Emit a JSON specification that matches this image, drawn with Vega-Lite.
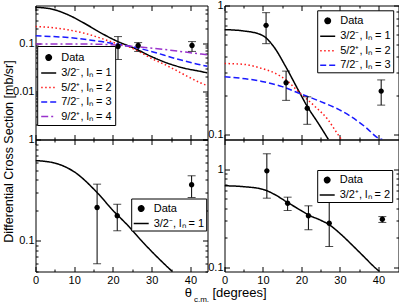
{
  "$schema": "https://vega.github.io/schema/vega-lite/v6.json",
  "padding": {"left": 1.5, "top": -1.5, "right": 0, "bottom": 0},
  "background": "white",
  "datasets": {
    "curves": [
      {"p": "a", "s": "3/2⁻, lₙ = 1", "x": 0, "y": 0.55},
      {"p": "a", "s": "3/2⁻, lₙ = 1", "x": 4, "y": 0.51},
      {"p": "a", "s": "3/2⁻, lₙ = 1", "x": 8.4, "y": 0.385},
      {"p": "a", "s": "3/2⁻, lₙ = 1", "x": 12.6, "y": 0.257},
      {"p": "a", "s": "3/2⁻, lₙ = 1", "x": 17, "y": 0.16},
      {"p": "a", "s": "3/2⁻, lₙ = 1", "x": 21.3, "y": 0.107},
      {"p": "a", "s": "3/2⁻, lₙ = 1", "x": 25.5, "y": 0.078},
      {"p": "a", "s": "3/2⁻, lₙ = 1", "x": 29.9, "y": 0.0525},
      {"p": "a", "s": "3/2⁻, lₙ = 1", "x": 34.2, "y": 0.038},
      {"p": "a", "s": "3/2⁻, lₙ = 1", "x": 38.5, "y": 0.03},
      {"p": "a", "s": "3/2⁻, lₙ = 1", "x": 42.8, "y": 0.0256},
      {"p": "a", "s": "3/2⁻, lₙ = 1", "x": 44.4, "y": 0.024},
      {"p": "a", "s": "5/2⁺, lₙ = 2", "x": 0, "y": 0.22},
      {"p": "a", "s": "5/2⁺, lₙ = 2", "x": 4, "y": 0.21},
      {"p": "a", "s": "5/2⁺, lₙ = 2", "x": 8.4, "y": 0.188},
      {"p": "a", "s": "5/2⁺, lₙ = 2", "x": 12.6, "y": 0.16},
      {"p": "a", "s": "5/2⁺, lₙ = 2", "x": 17, "y": 0.125},
      {"p": "a", "s": "5/2⁺, lₙ = 2", "x": 20.5, "y": 0.1},
      {"p": "a", "s": "5/2⁺, lₙ = 2", "x": 23.8, "y": 0.085},
      {"p": "a", "s": "5/2⁺, lₙ = 2", "x": 26.8, "y": 0.066},
      {"p": "a", "s": "5/2⁺, lₙ = 2", "x": 29.9, "y": 0.048},
      {"p": "a", "s": "5/2⁺, lₙ = 2", "x": 33, "y": 0.037},
      {"p": "a", "s": "5/2⁺, lₙ = 2", "x": 36, "y": 0.028},
      {"p": "a", "s": "5/2⁺, lₙ = 2", "x": 39.4, "y": 0.02},
      {"p": "a", "s": "5/2⁺, lₙ = 2", "x": 42.8, "y": 0.0147},
      {"p": "a", "s": "5/2⁺, lₙ = 2", "x": 44.4, "y": 0.013},
      {"p": "a", "s": "7/2⁻, lₙ = 3", "x": 0, "y": 0.141},
      {"p": "a", "s": "7/2⁻, lₙ = 3", "x": 8.4, "y": 0.13},
      {"p": "a", "s": "7/2⁻, lₙ = 3", "x": 17, "y": 0.107},
      {"p": "a", "s": "7/2⁻, lₙ = 3", "x": 21, "y": 0.095},
      {"p": "a", "s": "7/2⁻, lₙ = 3", "x": 25.5, "y": 0.082},
      {"p": "a", "s": "7/2⁻, lₙ = 3", "x": 29.9, "y": 0.067},
      {"p": "a", "s": "7/2⁻, lₙ = 3", "x": 36, "y": 0.048},
      {"p": "a", "s": "7/2⁻, lₙ = 3", "x": 42.8, "y": 0.035},
      {"p": "a", "s": "7/2⁻, lₙ = 3", "x": 44.4, "y": 0.033},
      {"p": "a", "s": "9/2⁺, lₙ = 4", "x": 0, "y": 0.096},
      {"p": "a", "s": "9/2⁺, lₙ = 4", "x": 10, "y": 0.096},
      {"p": "a", "s": "9/2⁺, lₙ = 4", "x": 17, "y": 0.094},
      {"p": "a", "s": "9/2⁺, lₙ = 4", "x": 21, "y": 0.091},
      {"p": "a", "s": "9/2⁺, lₙ = 4", "x": 25.5, "y": 0.085},
      {"p": "a", "s": "9/2⁺, lₙ = 4", "x": 34.2, "y": 0.072},
      {"p": "a", "s": "9/2⁺, lₙ = 4", "x": 42.8, "y": 0.059},
      {"p": "a", "s": "9/2⁺, lₙ = 4", "x": 44.4, "y": 0.057},
      {"p": "b", "s": "3/2⁻, lₙ = 1", "x": 0, "y": 0.65},
      {"p": "b", "s": "3/2⁻, lₙ = 1", "x": 5, "y": 0.635},
      {"p": "b", "s": "3/2⁻, lₙ = 1", "x": 9.7, "y": 0.59},
      {"p": "b", "s": "3/2⁻, lₙ = 1", "x": 13, "y": 0.47},
      {"p": "b", "s": "3/2⁻, lₙ = 1", "x": 15.8, "y": 0.34},
      {"p": "b", "s": "3/2⁻, lₙ = 1", "x": 19.2, "y": 0.22},
      {"p": "b", "s": "3/2⁻, lₙ = 1", "x": 21.5, "y": 0.165},
      {"p": "b", "s": "3/2⁻, lₙ = 1", "x": 24.3, "y": 0.123},
      {"p": "b", "s": "3/2⁻, lₙ = 1", "x": 27, "y": 0.0915},
      {"p": "b", "s": "5/2⁺, lₙ = 2", "x": 0, "y": 0.355},
      {"p": "b", "s": "5/2⁺, lₙ = 2", "x": 5, "y": 0.35},
      {"p": "b", "s": "5/2⁺, lₙ = 2", "x": 9.7, "y": 0.325},
      {"p": "b", "s": "5/2⁺, lₙ = 2", "x": 13, "y": 0.3},
      {"p": "b", "s": "5/2⁺, lₙ = 2", "x": 16, "y": 0.265},
      {"p": "b", "s": "5/2⁺, lₙ = 2", "x": 19.2, "y": 0.215},
      {"p": "b", "s": "5/2⁺, lₙ = 2", "x": 23.5, "y": 0.165},
      {"p": "b", "s": "5/2⁺, lₙ = 2", "x": 26.9, "y": 0.13},
      {"p": "b", "s": "5/2⁺, lₙ = 2", "x": 29, "y": 0.105},
      {"p": "b", "s": "5/2⁺, lₙ = 2", "x": 30.4, "y": 0.0915},
      {"p": "b", "s": "7/2⁻, lₙ = 3", "x": 0, "y": 0.28},
      {"p": "b", "s": "7/2⁻, lₙ = 3", "x": 9.7, "y": 0.258},
      {"p": "b", "s": "7/2⁻, lₙ = 3", "x": 15, "y": 0.235},
      {"p": "b", "s": "7/2⁻, lₙ = 3", "x": 19.2, "y": 0.21},
      {"p": "b", "s": "7/2⁻, lₙ = 3", "x": 25, "y": 0.18},
      {"p": "b", "s": "7/2⁻, lₙ = 3", "x": 29, "y": 0.16},
      {"p": "b", "s": "7/2⁻, lₙ = 3", "x": 32.5, "y": 0.14},
      {"p": "b", "s": "7/2⁻, lₙ = 3", "x": 36.5, "y": 0.115},
      {"p": "b", "s": "7/2⁻, lₙ = 3", "x": 40.2, "y": 0.093},
      {"p": "b", "s": "7/2⁻, lₙ = 3", "x": 41, "y": 0.0915},
      {"p": "c", "s": "3/2⁻, lₙ = 1", "x": 0, "y": 0.62},
      {"p": "c", "s": "3/2⁻, lₙ = 1", "x": 5, "y": 0.585},
      {"p": "c", "s": "3/2⁻, lₙ = 1", "x": 10, "y": 0.48},
      {"p": "c", "s": "3/2⁻, lₙ = 1", "x": 15.9, "y": 0.3},
      {"p": "c", "s": "3/2⁻, lₙ = 1", "x": 20, "y": 0.2},
      {"p": "c", "s": "3/2⁻, lₙ = 1", "x": 24, "y": 0.14},
      {"p": "c", "s": "3/2⁻, lₙ = 1", "x": 27.1, "y": 0.103},
      {"p": "c", "s": "3/2⁻, lₙ = 1", "x": 31, "y": 0.072},
      {"p": "c", "s": "3/2⁻, lₙ = 1", "x": 35.3, "y": 0.05},
      {"p": "d", "s": "3/2⁺, lₙ = 2", "x": 0, "y": 0.675},
      {"p": "d", "s": "3/2⁺, lₙ = 2", "x": 5, "y": 0.66},
      {"p": "d", "s": "3/2⁺, lₙ = 2", "x": 10, "y": 0.62},
      {"p": "d", "s": "3/2⁺, lₙ = 2", "x": 13, "y": 0.55},
      {"p": "d", "s": "3/2⁺, lₙ = 2", "x": 16.4, "y": 0.455},
      {"p": "d", "s": "3/2⁺, lₙ = 2", "x": 20, "y": 0.375},
      {"p": "d", "s": "3/2⁺, lₙ = 2", "x": 21.8, "y": 0.34},
      {"p": "d", "s": "3/2⁺, lₙ = 2", "x": 25, "y": 0.3},
      {"p": "d", "s": "3/2⁺, lₙ = 2", "x": 27.2, "y": 0.27},
      {"p": "d", "s": "3/2⁺, lₙ = 2", "x": 30, "y": 0.22},
      {"p": "d", "s": "3/2⁺, lₙ = 2", "x": 33, "y": 0.17},
      {"p": "d", "s": "3/2⁺, lₙ = 2", "x": 36, "y": 0.13},
      {"p": "d", "s": "3/2⁺, lₙ = 2", "x": 39.7, "y": 0.094},
      {"p": "d", "s": "3/2⁺, lₙ = 2", "x": 40.3, "y": 0.09}
    ],
    "points": [
      {"p": "a", "s": "Data", "x": 21.3, "y": 0.085, "lo": 0.0455, "hi": 0.136},
      {"p": "a", "s": "Data", "x": 26.5, "y": 0.089, "lo": 0.067, "hi": 0.102},
      {"p": "a", "s": "Data", "x": 40.4, "y": 0.089, "lo": 0.067, "hi": 0.107},
      {"p": "b", "s": "Data", "x": 10.8, "y": 0.702, "lo": 0.506, "hi": 0.88},
      {"p": "b", "s": "Data", "x": 16.0, "y": 0.252, "lo": 0.184, "hi": 0.31},
      {"p": "b", "s": "Data", "x": 21.5, "y": 0.16, "lo": 0.12, "hi": 0.196},
      {"p": "b", "s": "Data", "x": 40.7, "y": 0.217, "lo": 0.169, "hi": 0.265},
      {"p": "c", "s": "Data", "x": 15.9, "y": 0.214, "lo": 0.0596, "hi": 0.363},
      {"p": "c", "s": "Data", "x": 21.1, "y": 0.177, "lo": 0.126, "hi": 0.23},
      {"p": "c", "s": "Data", "x": 40.3, "y": 0.358, "lo": 0.268, "hi": 0.439},
      {"p": "d", "s": "Data", "x": 11.0, "y": 0.958, "lo": 0.504, "hi": 1.43},
      {"p": "d", "s": "Data", "x": 16.4, "y": 0.448, "lo": 0.377, "hi": 0.516},
      {"p": "d", "s": "Data", "x": 21.8, "y": 0.333, "lo": 0.24, "hi": 0.421},
      {"p": "d", "s": "Data", "x": 27.2, "y": 0.28, "lo": 0.162, "hi": 0.496},
      {"p": "d", "s": "Data", "x": 41.0, "y": 0.307, "lo": 0.285, "hi": 0.327}
    ]
  },
  "columns": 2,
  "spacing": {"row": 0, "column": 17},
  "bounds": "flush",
  "resolve": {
    "scale": {"x": "independent", "y": "independent", "color": "independent", "strokeDash": "independent", "shape": "independent"},
    "legend": {"color": "independent", "strokeDash": "independent", "shape": "independent"},
    "axis": {"x": "independent", "y": "independent"}
  },
  "concat": [
    {
      "width": 172, "height": 134,
      "layer": [
        {
          "data": {"name": "curves"}, "transform": [{"filter": "datum.p === 'a'"}],
          "mark": {"type": "line", "clip": true, "strokeWidth": 1.5, "interpolate": "monotone"},
          "encoding": {
            "x": {"field": "x", "type": "quantitative", "scale": {"domain": [0, 44.4], "nice": false, "zero": false}, "axis": {"orient": "bottom", "values": [0, 10, 20, 30, 40], "labels": false, "title": null}},
            "y": {"field": "y", "type": "quantitative", "scale": {"type": "log", "domain": [0.001, 0.6], "nice": false}, "axis": {"orient": "left", "values": [0.01, 0.1], "title": "Differential Cross Section [mb/sr]", "titleX": -26.8, "titleY": 145.5, "titleAngle": -90, "titleAlign": "center", "titleBaseline": "middle"}},
            "color": {"field": "s", "type": "nominal", "scale": {"domain": ["Data", "3/2⁻, lₙ = 1", "5/2⁺, lₙ = 2", "7/2⁻, lₙ = 3", "9/2⁺, lₙ = 4"], "range": ["black", "black", "#ff1a1a", "#1a1aff", "#9932cc"]},
              "legend": {"orient": "none", "legendX": 1.7, "legendY": 40.5, "title": null, "padding": 3, "rowPadding": 0.5}},
            "strokeDash": {"field": "s", "type": "nominal", "scale": {"domain": ["Data", "3/2⁻, lₙ = 1", "5/2⁺, lₙ = 2", "7/2⁻, lₙ = 3", "9/2⁺, lₙ = 4"], "range": [[1, 0], [1, 0], [1.5, 2.5], [6, 3], [7, 3, 2, 3]]},
              "legend": {"orient": "none", "legendX": 1.7, "legendY": 40.5, "title": null, "padding": 3, "rowPadding": 0.5}}
          }
        },
        {
          "data": {"name": "points"}, "transform": [{"filter": "datum.p === 'a'"}],
          "mark": {"type": "rule", "color": "black", "strokeWidth": 1},
          "encoding": {
            "x": {"field": "x", "type": "quantitative", "axis": {"orient": "top", "values": [0, 10, 20, 30, 40], "labels": false, "title": null}},
            "y": {"field": "lo", "type": "quantitative", "axis": {"orient": "right", "values": [0.001, 0.01, 0.1], "labels": false, "title": null}},
            "y2": {"field": "hi"}
          }
        },
        {
          "data": {"name": "points"}, "transform": [{"filter": "datum.p === 'a'"}],
          "mark": {"type": "tick", "orient": "horizontal", "size": 8, "thickness": 1, "color": "black"},
          "encoding": {
            "x": {"field": "x", "type": "quantitative", "axis": {"orient": "bottom", "values": [5, 15, 25, 35], "labels": false, "tickSize": -2.5, "title": null}},
            "y": {"field": "lo", "type": "quantitative", "axis": {"orient": "left", "values": [0.002, 0.003, 0.004, 0.005, 0.006, 0.007, 0.008, 0.009, 0.02, 0.03, 0.04, 0.05, 0.06, 0.07, 0.08, 0.09, 0.2, 0.3, 0.4, 0.5], "labels": false, "tickSize": -2.5, "title": null}}
          }
        },
        {
          "data": {"name": "points"}, "transform": [{"filter": "datum.p === 'a'"}],
          "mark": {"type": "tick", "orient": "horizontal", "size": 8, "thickness": 1, "color": "black"},
          "encoding": {
            "x": {"field": "x", "type": "quantitative", "axis": {"orient": "top", "values": [5, 15, 25, 35], "labels": false, "tickSize": -2.5, "title": null}},
            "y": {"field": "hi", "type": "quantitative", "axis": {"orient": "right", "values": [0.002, 0.003, 0.004, 0.005, 0.006, 0.007, 0.008, 0.009, 0.02, 0.03, 0.04, 0.05, 0.06, 0.07, 0.08, 0.09, 0.2, 0.3, 0.4, 0.5], "labels": false, "tickSize": -2.5, "title": null}}
          }
        },
        {
          "data": {"name": "points"}, "transform": [{"filter": "datum.p === 'a'"}],
          "mark": {"type": "point", "filled": true, "size": 225, "color": "black", "opacity": 1},
          "encoding": {
            "x": {"field": "x", "type": "quantitative", "axis": null},
            "y": {"field": "y", "type": "quantitative", "axis": null},
            "shape": {"field": "s", "type": "nominal", "scale": {"domain": ["Data", "3/2⁻, lₙ = 1", "5/2⁺, lₙ = 2", "7/2⁻, lₙ = 3", "9/2⁺, lₙ = 4"], "range": ["M-0.36,0A0.36,0.36,0,1,0,0.36,0A0.36,0.36,0,1,0,-0.36,0Z", "stroke", "stroke", "stroke", "stroke"]},
              "legend": {"orient": "none", "legendX": 1.7, "legendY": 40.5, "title": null, "padding": 3, "rowPadding": 0.5}}
          }
        },
        {
          "mark": {"type": "text", "fontSize": 12.5, "align": "center", "baseline": "middle", "color": "black"},
          "encoding": {
            "x": {"datum": 33.9, "type": "quantitative", "axis": null},
            "y": {"datum": 0.0167, "type": "quantitative", "axis": null},
            "text": {"value": "7602 keV"}
          }
        }
      ],
      "resolve": {"axis": {"x": "independent", "y": "independent"}}
    },
    {
      "width": 174, "height": 134,
      "layer": [
        {
          "data": {"name": "curves"}, "transform": [{"filter": "datum.p === 'b'"}],
          "mark": {"type": "line", "clip": true, "strokeWidth": 1.5, "interpolate": "monotone"},
          "encoding": {
            "x": {"field": "x", "type": "quantitative", "scale": {"domain": [0, 45.2], "nice": false, "zero": false}, "axis": {"orient": "bottom", "values": [0, 10, 20, 30, 40], "labels": false, "title": null}},
            "y": {"field": "y", "type": "quantitative", "scale": {"type": "log", "domain": [0.0915, 1], "nice": false}, "axis": {"orient": "left", "values": [0.1, 1], "title": null}},
            "color": {"field": "s", "type": "nominal", "scale": {"domain": ["Data", "3/2⁻, lₙ = 1", "5/2⁺, lₙ = 2", "7/2⁻, lₙ = 3"], "range": ["black", "black", "#ff1a1a", "#1a1aff"]},
              "legend": {"orient": "none", "legendX": 92.7, "legendY": 4.8, "title": null, "padding": 2, "rowPadding": 0.5}},
            "strokeDash": {"field": "s", "type": "nominal", "scale": {"domain": ["Data", "3/2⁻, lₙ = 1", "5/2⁺, lₙ = 2", "7/2⁻, lₙ = 3"], "range": [[1, 0], [1, 0], [1.5, 2.5], [6, 3]]},
              "legend": {"orient": "none", "legendX": 92.7, "legendY": 4.8, "title": null, "padding": 2, "rowPadding": 0.5}}
          }
        },
        {
          "data": {"name": "points"}, "transform": [{"filter": "datum.p === 'b'"}],
          "mark": {"type": "rule", "color": "black", "strokeWidth": 1},
          "encoding": {
            "x": {"field": "x", "type": "quantitative", "axis": {"orient": "top", "values": [0, 10, 20, 30, 40], "labels": false, "title": null}},
            "y": {"field": "lo", "type": "quantitative", "axis": {"orient": "right", "values": [0.1, 1], "labels": false, "title": null}},
            "y2": {"field": "hi"}
          }
        },
        {
          "data": {"name": "points"}, "transform": [{"filter": "datum.p === 'b'"}],
          "mark": {"type": "tick", "orient": "horizontal", "size": 8, "thickness": 1, "color": "black"},
          "encoding": {
            "x": {"field": "x", "type": "quantitative", "axis": {"orient": "bottom", "values": [5, 15, 25, 35], "labels": false, "tickSize": -2.5, "title": null}},
            "y": {"field": "lo", "type": "quantitative", "axis": {"orient": "left", "values": [0.2, 0.3, 0.4, 0.5, 0.6, 0.7, 0.8, 0.9], "labels": false, "tickSize": -2.5, "title": null}}
          }
        },
        {
          "data": {"name": "points"}, "transform": [{"filter": "datum.p === 'b'"}],
          "mark": {"type": "tick", "orient": "horizontal", "size": 8, "thickness": 1, "color": "black"},
          "encoding": {
            "x": {"field": "x", "type": "quantitative", "axis": {"orient": "top", "values": [5, 15, 25, 35], "labels": false, "tickSize": -2.5, "title": null}},
            "y": {"field": "hi", "type": "quantitative", "axis": {"orient": "right", "values": [0.2, 0.3, 0.4, 0.5, 0.6, 0.7, 0.8, 0.9], "labels": false, "tickSize": -2.5, "title": null}}
          }
        },
        {
          "data": {"name": "points"}, "transform": [{"filter": "datum.p === 'b'"}],
          "mark": {"type": "point", "filled": true, "size": 225, "color": "black", "opacity": 1},
          "encoding": {
            "x": {"field": "x", "type": "quantitative", "axis": null},
            "y": {"field": "y", "type": "quantitative", "axis": null},
            "shape": {"field": "s", "type": "nominal", "scale": {"domain": ["Data", "3/2⁻, lₙ = 1", "5/2⁺, lₙ = 2", "7/2⁻, lₙ = 3"], "range": ["M-0.36,0A0.36,0.36,0,1,0,0.36,0A0.36,0.36,0,1,0,-0.36,0Z", "stroke", "stroke", "stroke"]},
              "legend": {"orient": "none", "legendX": 92.7, "legendY": 4.8, "title": null, "padding": 2, "rowPadding": 0.5}}
          }
        },
        {
          "mark": {"type": "text", "fontSize": 12.5, "align": "center", "baseline": "middle", "color": "black"},
          "encoding": {
            "x": {"datum": 9.1, "type": "quantitative", "axis": null},
            "y": {"datum": 0.199, "type": "quantitative", "axis": null},
            "text": {"value": "7820 keV"}
          }
        }
      ],
      "resolve": {"axis": {"x": "independent", "y": "independent"}}
    },
    {
      "width": 172, "height": 132,
      "layer": [
        {
          "data": {"name": "curves"}, "transform": [{"filter": "datum.p === 'c'"}],
          "mark": {"type": "line", "clip": true, "strokeWidth": 1.5, "interpolate": "monotone"},
          "encoding": {
            "x": {"field": "x", "type": "quantitative", "scale": {"domain": [0, 44.4], "nice": false, "zero": false}, "axis": {"orient": "bottom", "values": [0, 10, 20, 30, 40], "title": "θ", "titleX": 152.4, "titleY": 21, "titleAlign": "center", "titleBaseline": "middle", "titleFontSize": 13}},
            "y": {"field": "y", "type": "quantitative", "scale": {"type": "log", "domain": [0.05, 1], "nice": false}, "axis": {"orient": "left", "values": [0.1, 1], "title": null}},
            "color": {"field": "s", "type": "nominal", "scale": {"domain": ["Data", "3/2⁻, lₙ = 1"], "range": ["black", "black"]},
              "legend": {"orient": "none", "legendX": 95.7, "legendY": 59, "title": null, "padding": 1.5, "rowPadding": 0}},
            "strokeDash": {"field": "s", "type": "nominal", "scale": {"domain": ["Data", "3/2⁻, lₙ = 1"], "range": [[1, 0], [1, 0]]},
              "legend": {"orient": "none", "legendX": 95.7, "legendY": 59, "title": null, "padding": 1.5, "rowPadding": 0}}
          }
        },
        {
          "data": {"name": "points"}, "transform": [{"filter": "datum.p === 'c'"}],
          "mark": {"type": "rule", "color": "black", "strokeWidth": 1},
          "encoding": {
            "x": {"field": "x", "type": "quantitative", "axis": {"orient": "top", "values": [0, 10, 20, 30, 40], "labels": false, "title": null}},
            "y": {"field": "lo", "type": "quantitative", "axis": {"orient": "right", "values": [0.1, 1], "labels": false, "title": null}},
            "y2": {"field": "hi"}
          }
        },
        {
          "data": {"name": "points"}, "transform": [{"filter": "datum.p === 'c'"}],
          "mark": {"type": "tick", "orient": "horizontal", "size": 8, "thickness": 1, "color": "black"},
          "encoding": {
            "x": {"field": "x", "type": "quantitative", "axis": {"orient": "bottom", "values": [5, 15, 25, 35], "labels": false, "tickSize": -2.5, "title": "c.m.", "titleX": 165.5, "titleY": 27.5, "titleAlign": "center", "titleBaseline": "middle", "titleFontSize": 8}},
            "y": {"field": "lo", "type": "quantitative", "axis": {"orient": "left", "values": [0.05, 0.06, 0.07, 0.08, 0.09, 0.2, 0.3, 0.4, 0.5, 0.6, 0.7, 0.8, 0.9], "labels": false, "tickSize": -2.5, "title": null}}
          }
        },
        {
          "data": {"name": "points"}, "transform": [{"filter": "datum.p === 'c'"}],
          "mark": {"type": "tick", "orient": "horizontal", "size": 8, "thickness": 1, "color": "black"},
          "encoding": {
            "x": {"field": "x", "type": "quantitative", "axis": {"orient": "top", "values": [5, 15, 25, 35], "labels": false, "tickSize": -2.5, "title": null}},
            "y": {"field": "hi", "type": "quantitative", "axis": {"orient": "right", "values": [0.05, 0.06, 0.07, 0.08, 0.09, 0.2, 0.3, 0.4, 0.5, 0.6, 0.7, 0.8, 0.9], "labels": false, "tickSize": -2.5, "title": null}}
          }
        },
        {
          "data": {"name": "points"}, "transform": [{"filter": "datum.p === 'c'"}],
          "mark": {"type": "point", "filled": true, "size": 225, "color": "black", "opacity": 1},
          "encoding": {
            "x": {"field": "x", "type": "quantitative", "axis": null},
            "y": {"field": "y", "type": "quantitative", "axis": null},
            "shape": {"field": "s", "type": "nominal", "scale": {"domain": ["Data", "3/2⁻, lₙ = 1"], "range": ["M-0.36,0A0.36,0.36,0,1,0,0.36,0A0.36,0.36,0,1,0,-0.36,0Z", "stroke"]},
              "legend": {"orient": "none", "legendX": 95.7, "legendY": 59, "title": null, "padding": 1.5, "rowPadding": 0}}
          }
        },
        {
          "mark": {"type": "text", "fontSize": 12.5, "align": "center", "baseline": "middle", "color": "black"},
          "encoding": {
            "x": {"datum": 8.2, "type": "quantitative", "axis": null},
            "y": {"datum": 0.192, "type": "quantitative", "axis": null},
            "text": {"value": "7981 keV"}
          }
        }
      ],
      "resolve": {"axis": {"x": "independent", "y": "independent"}}
    },
    {
      "width": 174, "height": 132,
      "layer": [
        {
          "data": {"name": "curves"}, "transform": [{"filter": "datum.p === 'd'"}],
          "mark": {"type": "line", "clip": true, "strokeWidth": 1.5, "interpolate": "monotone"},
          "encoding": {
            "x": {"field": "x", "type": "quantitative", "scale": {"domain": [0, 45.2], "nice": false, "zero": false}, "axis": {"orient": "bottom", "values": [0, 10, 20, 30, 40], "title": "[degrees]", "titleX": 14.5, "titleY": 21, "titleAlign": "center", "titleBaseline": "middle", "titleFontSize": 13}},
            "y": {"field": "y", "type": "quantitative", "scale": {"type": "log", "domain": [0.09, 2], "nice": false}, "axis": {"orient": "left", "values": [0.1, 1], "title": null}},
            "color": {"field": "s", "type": "nominal", "scale": {"domain": ["Data", "3/2⁺, lₙ = 2"], "range": ["black", "black"]},
              "legend": {"orient": "none", "legendX": 92.7, "legendY": 30.5, "title": null, "padding": 1.5, "rowPadding": 0}},
            "strokeDash": {"field": "s", "type": "nominal", "scale": {"domain": ["Data", "3/2⁺, lₙ = 2"], "range": [[1, 0], [1, 0]]},
              "legend": {"orient": "none", "legendX": 92.7, "legendY": 30.5, "title": null, "padding": 1.5, "rowPadding": 0}}
          }
        },
        {
          "data": {"name": "points"}, "transform": [{"filter": "datum.p === 'd'"}],
          "mark": {"type": "rule", "color": "black", "strokeWidth": 1},
          "encoding": {
            "x": {"field": "x", "type": "quantitative", "axis": {"orient": "top", "values": [0, 10, 20, 30, 40], "labels": false, "title": null}},
            "y": {"field": "lo", "type": "quantitative", "axis": {"orient": "right", "values": [0.1, 1], "labels": false, "title": null}},
            "y2": {"field": "hi"}
          }
        },
        {
          "data": {"name": "points"}, "transform": [{"filter": "datum.p === 'd'"}],
          "mark": {"type": "tick", "orient": "horizontal", "size": 8, "thickness": 1, "color": "black"},
          "encoding": {
            "x": {"field": "x", "type": "quantitative", "axis": {"orient": "bottom", "values": [5, 15, 25, 35], "labels": false, "tickSize": -2.5, "title": null}},
            "y": {"field": "lo", "type": "quantitative", "axis": {"orient": "left", "values": [0.2, 0.3, 0.4, 0.5, 0.6, 0.7, 0.8, 0.9], "labels": false, "tickSize": -2.5, "title": null}}
          }
        },
        {
          "data": {"name": "points"}, "transform": [{"filter": "datum.p === 'd'"}],
          "mark": {"type": "tick", "orient": "horizontal", "size": 8, "thickness": 1, "color": "black"},
          "encoding": {
            "x": {"field": "x", "type": "quantitative", "axis": {"orient": "top", "values": [5, 15, 25, 35], "labels": false, "tickSize": -2.5, "title": null}},
            "y": {"field": "hi", "type": "quantitative", "axis": {"orient": "right", "values": [0.2, 0.3, 0.4, 0.5, 0.6, 0.7, 0.8, 0.9], "labels": false, "tickSize": -2.5, "title": null}}
          }
        },
        {
          "data": {"name": "points"}, "transform": [{"filter": "datum.p === 'd'"}],
          "mark": {"type": "point", "filled": true, "size": 225, "color": "black", "opacity": 1},
          "encoding": {
            "x": {"field": "x", "type": "quantitative", "axis": null},
            "y": {"field": "y", "type": "quantitative", "axis": null},
            "shape": {"field": "s", "type": "nominal", "scale": {"domain": ["Data", "3/2⁺, lₙ = 2"], "range": ["M-0.36,0A0.36,0.36,0,1,0,0.36,0A0.36,0.36,0,1,0,-0.36,0Z", "stroke"]},
              "legend": {"orient": "none", "legendX": 92.7, "legendY": 30.5, "title": null, "padding": 1.5, "rowPadding": 0}}
          }
        },
        {
          "mark": {"type": "text", "fontSize": 12.5, "align": "center", "baseline": "middle", "color": "black"},
          "encoding": {
            "x": {"datum": 10.9, "type": "quantitative", "axis": null},
            "y": {"datum": 0.259, "type": "quantitative", "axis": null},
            "text": {"value": "8068 keV"}
          }
        }
      ],
      "resolve": {"axis": {"x": "independent", "y": "independent"}}
    }
  ],
  "config": {
    "font": "Liberation Sans",
    "view": {"stroke": "black", "strokeWidth": 1},
    "axis": {"domain": false, "grid": false, "tickSize": -5, "tickColor": "black", "tickWidth": 1, "labelColor": "black", "labelFont": "Liberation Sans", "labelFontSize": 11, "labelFlush": false, "labelOverlap": false, "titleFont": "Liberation Sans", "titleFontWeight": "normal", "titleColor": "black", "titleFontSize": 12.5},
    "axisX": {"labelPadding": 8},
    "axisY": {"labelPadding": 6.5},
    "legend": {"strokeColor": "black", "fillColor": "white", "cornerRadius": 0, "labelFont": "Liberation Sans", "labelFontSize": 11, "labelColor": "black", "symbolSize": 225, "symbolStrokeWidth": 1.5, "labelOffset": 4, "symbolType": "stroke"},
    "text": {"font": "Liberation Sans"}
  }
}
